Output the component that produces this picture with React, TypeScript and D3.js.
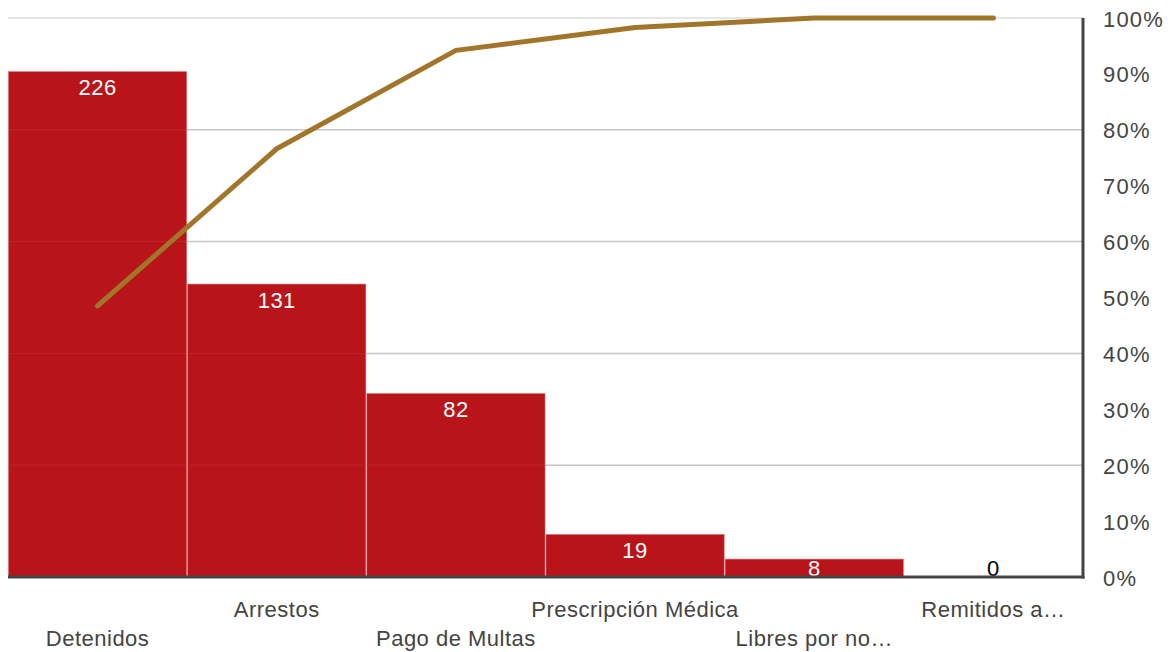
import React from "react";
import * as d3 from "d3";

const categories = ["Detenidos", "Arrestos", "Pago de Multas", "Prescripción Médica", "Libres por no…", "Remitidos a…"];
const counts = [226, 131, 82, 19, 8, 0];
const pctTicks = [0, 10, 20, 30, 40, 50, 60, 70, 80, 90, 100];
const gridTicks = [20, 40, 60, 80, 100];

const W = 1176, H = 652;
const M = { left: 8, right: 1083, top: 18, bottom: 577 };
const FONT = "'Liberation Sans', Arial, Helvetica, sans-serif";

export default function App() {
  const x = d3.scaleBand<string>().domain(categories).range([M.left, M.right]).paddingInner(0).paddingOuter(0);
  const yCount = d3.scaleLinear().domain([0, 250]).range([M.bottom, M.top]);
  const yPct = d3.scaleLinear().domain([0, 100]).range([M.bottom, M.top]);
  const total = d3.sum(counts);
  const cum = d3.cumsum(counts).map((c) => (c / total) * 100);
  const line = d3.line<number>()
    .x((_, i) => (x(categories[i]) as number) + x.bandwidth() / 2)
    .y((d) => yPct(d));

  return (
    <svg width={W} height={H} style={{ position: "absolute", left: 0, top: 0 }} fontFamily={FONT}>
      {gridTicks.map((t) => (
        <line key={t} x1={M.left} x2={M.right} y1={yPct(t)} y2={yPct(t)}
          stroke={t === 100 ? "#e6e6e6" : "#c4c4c4"} strokeWidth={t === 100 ? 2 : 1.5} />
      ))}
      {counts.map((v, i) => (
        <rect key={i} x={(x(categories[i]) as number) + 0.5} width={x.bandwidth() - 1}
          y={yCount(v)} height={M.bottom - yCount(v)} fill="#B8141A" stroke="#d46a6e" strokeWidth={0.6} />
      ))}
      {gridTicks.filter((t) => t !== 100).map((t) => (
        <line key={"o" + t} x1={M.left} x2={M.right} y1={yPct(t)} y2={yPct(t)}
          stroke="#ffffff" strokeOpacity={0.08} strokeWidth={1} />
      ))}
      {counts.map((v, i) => {
        const cx = (x(categories[i]) as number) + x.bandwidth() / 2;
        const inside = v > 0;
        const ly = Math.min(yCount(v) + 16, M.bottom - 9);
        return (
          <text key={"l" + i} x={cx} y={ly}
            textAnchor="middle" dominantBaseline="central" fontSize={22} letterSpacing={0.5}
            fill={inside ? "#ffffff" : "#000000"}>{v}</text>
        );
      })}
      <path d={line(cum) as string} fill="none" stroke="#A2762A" strokeWidth={5}
        strokeLinecap="round" strokeLinejoin="round" />
      <line x1={M.left} x2={M.right + 1.5} y1={M.bottom} y2={M.bottom} stroke="#444" strokeWidth={3} />
      <line x1={M.right} x2={M.right} y1={M.top} y2={M.bottom + 1.5} stroke="#444" strokeWidth={3} />
      {pctTicks.map((t) => (
        <text key={"p" + t} x={1103} y={yPct(t) + 1} dominantBaseline="central" fontSize={22} letterSpacing={1.2} fill="#444">{t}%</text>
      ))}
      {categories.map((c, i) => (
        <text key={"c" + i} x={(x(c) as number) + x.bandwidth() / 2} y={i % 2 === 1 ? 609 : 638}
          textAnchor="middle" dominantBaseline="central" fontSize={22} letterSpacing={0.5} fill="#444">{c}</text>
      ))}
    </svg>
  );
}
